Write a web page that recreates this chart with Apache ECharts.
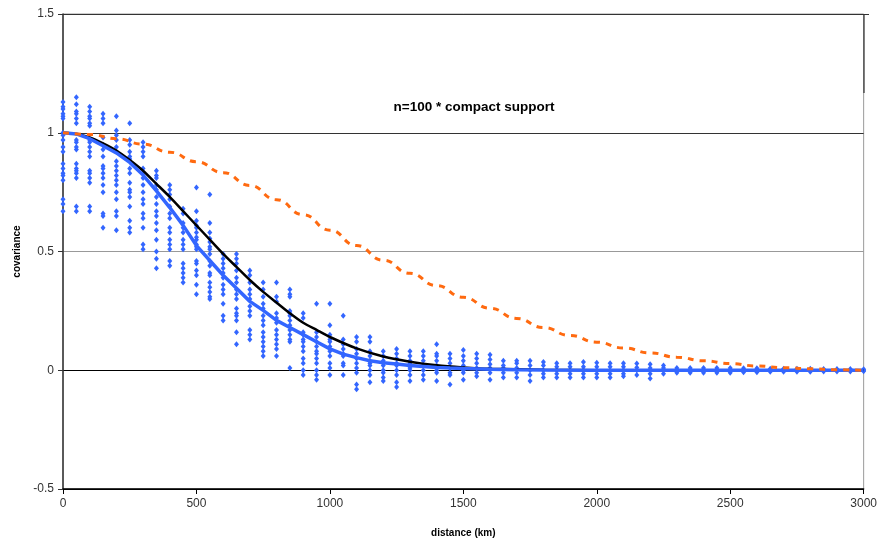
<!DOCTYPE html>
<html>
<head>
<meta charset="utf-8">
<script src="https://cdn.jsdelivr.net/npm/echarts@6/dist/echarts.min.js"></script>
<style>
  html, body { margin: 0; padding: 0; background: #fff; }
  #chart { width: 880px; height: 546px; }
</style>
</head>
<body>
<div id="chart"></div>
<script>
// Separation distances (km) at which the ensemble covariances were sampled
const distanceKm = [
  0, 50, 100, 150, 200, 250, 300, 350, 400, 450, 500, 550, 600, 650, 700, 750,
  800, 850, 900, 950, 1000, 1050, 1100, 1150, 1200, 1250, 1300, 1350, 1400, 1450,
  1500, 1550, 1600, 1650, 1700, 1750, 1800, 1850, 1900, 1950, 2000, 2050, 2100,
  2150, 2200, 2250, 2300, 2350, 2400, 2450, 2500, 2550, 2600, 2650, 2700, 2750,
  2800, 2850, 2900, 2950, 3000
];

// Sample covariances (n=100 ensemble, localized) at each distance above
const sampleCov = [
  [1.13, 1.11, 1.10, 1.08, 1.07, 1.06, 1.00, 0.99, 0.97, 0.94, 0.92, 0.87, 0.85, 0.83, 0.82, 0.80, 0.72, 0.70, 0.67],
  [1.15, 1.12, 1.09, 1.08, 1.06, 1.04, 0.97, 0.96, 0.94, 0.93, 0.87, 0.85, 0.84, 0.83, 0.81, 0.69, 0.67],
  [1.11, 1.09, 1.07, 1.06, 1.04, 1.03, 0.97, 0.96, 0.94, 0.92, 0.90, 0.84, 0.83, 0.81, 0.79, 0.69, 0.67],
  [1.08, 1.06, 1.04, 0.98, 0.95, 0.93, 0.90, 0.86, 0.85, 0.83, 0.81, 0.78, 0.75, 0.66, 0.65, 0.60],
  [1.07, 1.01, 0.99, 0.97, 0.94, 0.92, 0.88, 0.86, 0.84, 0.82, 0.80, 0.78, 0.75, 0.72, 0.67, 0.65, 0.59],
  [1.04, 0.97, 0.95, 0.92, 0.90, 0.89, 0.85, 0.83, 0.79, 0.76, 0.75, 0.73, 0.69, 0.63, 0.60, 0.58],
  [0.96, 0.94, 0.92, 0.90, 0.85, 0.83, 0.81, 0.78, 0.75, 0.72, 0.70, 0.66, 0.64, 0.60, 0.53, 0.51],
  [0.84, 0.82, 0.81, 0.78, 0.76, 0.73, 0.70, 0.67, 0.65, 0.62, 0.59, 0.55, 0.50, 0.47, 0.43],
  [0.78, 0.76, 0.74, 0.72, 0.69, 0.66, 0.64, 0.60, 0.58, 0.55, 0.53, 0.51, 0.46, 0.44],
  [0.68, 0.66, 0.62, 0.60, 0.58, 0.55, 0.53, 0.51, 0.45, 0.43, 0.41, 0.39, 0.37],
  [0.77, 0.67, 0.63, 0.61, 0.60, 0.58, 0.56, 0.55, 0.53, 0.52, 0.51, 0.46, 0.45, 0.42, 0.40, 0.36, 0.32],
  [0.74, 0.62, 0.58, 0.555, 0.54, 0.52, 0.51, 0.49, 0.46, 0.44, 0.41, 0.40, 0.37, 0.35, 0.33, 0.31, 0.30],
  [0.49, 0.47, 0.45, 0.43, 0.41, 0.39, 0.36, 0.34, 0.32, 0.28, 0.23, 0.21],
  [0.49, 0.47, 0.45, 0.42, 0.39, 0.37, 0.34, 0.32, 0.30, 0.26, 0.24, 0.23, 0.21, 0.16, 0.11],
  [0.42, 0.40, 0.37, 0.34, 0.32, 0.30, 0.27, 0.25, 0.23, 0.17, 0.15, 0.13],
  [0.37, 0.34, 0.31, 0.28, 0.26, 0.23, 0.21, 0.19, 0.16, 0.14, 0.12, 0.10, 0.08, 0.06],
  [0.37, 0.31, 0.29, 0.24, 0.22, 0.20, 0.17, 0.15, 0.13, 0.11, 0.09, 0.06],
  [0.34, 0.32, 0.31, 0.25, 0.24, 0.23, 0.21, 0.19, 0.17, 0.15, 0.13, 0.12, 0.01],
  [0.24, 0.22, 0.16, 0.15, 0.13, 0.12, 0.10, 0.08, 0.05, 0.03, 0.00, -0.02],
  [0.28, 0.16, 0.14, 0.12, 0.10, 0.08, 0.07, 0.05, 0.03, 0.00, -0.02, -0.04],
  [0.28, 0.19, 0.15, 0.13, 0.12, 0.10, 0.08, 0.06, 0.03, 0.01, -0.02],
  [0.23, 0.13, 0.11, 0.09, 0.07, 0.06, 0.03, 0.02, -0.02],
  [0.14, 0.12, 0.09, 0.07, 0.05, 0.03, 0.01, -0.01, -0.06, -0.08],
  [0.14, 0.12, 0.08, 0.06, 0.04, 0.03, 0.02, 0.00, -0.02, -0.05],
  [0.08, 0.06, 0.04, 0.03, 0.02, 0.00, -0.01, -0.03, -0.045],
  [0.09, 0.07, 0.05, 0.03, 0.02, 0.00, -0.02, -0.05, -0.07],
  [0.08, 0.06, 0.04, 0.03, 0.01, 0.00, -0.02, -0.045],
  [0.08, 0.06, 0.04, 0.02, 0.00, -0.02, -0.04],
  [0.11, 0.07, 0.06, 0.04, 0.02, 0.00, -0.01, -0.045],
  [0.07, 0.05, 0.03, 0.01, -0.01, -0.02, -0.06],
  [0.085, 0.06, 0.04, 0.02, 0.00, -0.01, -0.04],
  [0.07, 0.05, 0.03, 0.01, -0.01, -0.025],
  [0.065, 0.045, 0.025, 0.01, -0.01, -0.04],
  [0.04, 0.02, 0.01, -0.01, -0.03],
  [0.04, 0.03, 0.01, -0.01, -0.03],
  [0.04, 0.02, 0.00, -0.02, -0.045],
  [0.035, 0.02, 0.00, -0.015, -0.03],
  [0.03, 0.015, 0.00, -0.015, -0.03],
  [0.03, 0.015, 0.00, -0.015, -0.03],
  [0.035, 0.015, 0.00, -0.015, -0.03],
  [0.032, 0.015, 0.00, -0.015, -0.03],
  [0.03, 0.015, 0.00, -0.015, -0.03],
  [0.03, 0.015, 0.00, -0.015, -0.025],
  [0.028, 0.012, 0.00, -0.02],
  [0.025, 0.01, 0.00, -0.015, -0.035],
  [0.02, 0.01, 0.00, -0.015],
  [0.01, 0.00, -0.01],
  [0.01, 0.00, -0.01],
  [0.01, 0.00, -0.01],
  [0.01, 0.00, -0.01],
  [0.01, 0.00, -0.01],
  [0.008, 0.00, -0.008],
  [0.008, 0.00, -0.008],
  [0.006, 0.00, -0.006],
  [0.006, 0.00, -0.006],
  [0.006, 0.00, -0.006],
  [0.006, 0.00, -0.006],
  [0.005, 0.00, -0.005],
  [0.005, 0.00, -0.005],
  [0.005, 0.00, -0.005],
  [0.004, 0.00, -0.004]
];

// Mean of the localized sample covariances
const meanDistKm = [0, 50, 100, 150, 200, 250, 300, 350, 400, 450, 500, 550, 600, 650, 700, 750, 800, 850, 900, 950, 1000, 1050, 1100, 1150, 1200, 1250, 1300, 1350, 1400, 1450, 1500, 1600, 1700, 1800, 2000, 2500, 3000];
const meanCov = [1.0, 0.995, 0.975, 0.945, 0.915, 0.875, 0.822, 0.755, 0.685, 0.61, 0.525, 0.462, 0.40, 0.345, 0.29, 0.252, 0.21, 0.18, 0.15, 0.12, 0.09, 0.068, 0.053, 0.04, 0.032, 0.026, 0.02, 0.016, 0.012, 0.009, 0.007, 0.004, 0.002, 0.001, 0.0, 0.0, 0.0];

// True covariance
const trueDistKm = [0, 50, 100, 150, 200, 250, 300, 350, 400, 450, 500, 550, 600, 650, 700, 750, 800, 850, 900, 950, 1000, 1100, 1200, 1300, 1400, 1500, 1600, 1800, 2000, 2500, 3000];
const trueCov = [1.0, 0.995, 0.98, 0.955, 0.925, 0.885, 0.84, 0.785, 0.73, 0.67, 0.61, 0.55, 0.49, 0.435, 0.38, 0.33, 0.285, 0.24, 0.20, 0.17, 0.14, 0.092, 0.058, 0.036, 0.021, 0.012, 0.006, 0.002, 0.0, 0.0, 0.0];

// Compact support (localization) function
const taperDistKm = [0, 100, 200, 300, 400, 500, 600, 700, 800, 900, 1000, 1100, 1200, 1300, 1400, 1500, 1600, 1700, 1800, 1900, 2000, 2100, 2200, 2300, 2400, 2500, 2600, 2700, 2800, 2900, 3000];
const taperCov = [1.0, 0.993, 0.975, 0.952, 0.918, 0.878, 0.832, 0.778, 0.718, 0.655, 0.59, 0.525, 0.463, 0.408, 0.356, 0.307, 0.261, 0.218, 0.18, 0.146, 0.118, 0.094, 0.073, 0.055, 0.04, 0.028, 0.018, 0.011, 0.006, 0.002, 0.0];

const xTicks = { min: 0, max: 3000, step: 500 };
const yTicks = { min: -0.5, max: 1.5, step: 0.5 };
const chartTitle = 'n=100 * compact support';

const pairs = (xs, ys) => xs.map((x, i) => [x, ys[i]]);
const scatterPoints = [];
distanceKm.forEach((d, i) => sampleCov[i].forEach(v => scatterPoints.push([d, v])));

const font = '"Liberation Sans", Arial, sans-serif';
const blue = '#3366ff';

const chart = echarts.init(document.getElementById('chart'), null, { renderer: 'canvas' });
chart.setOption({
  backgroundColor: '#ffffff',
  animation: false,
  title: {
    text: chartTitle,
    left: 469,
    top: 95,
    textAlign: 'center',
    textStyle: { fontFamily: font, fontSize: 13.5, fontWeight: 'bold', color: '#000' }
  },
  grid: {
    left: 63, right: 16, top: 14, bottom: 57,
    show: true, borderColor: '#9a9a9a', borderWidth: 1, backgroundColor: 'transparent'
  },
  xAxis: {
    type: 'value',
    min: xTicks.min, max: xTicks.max, interval: xTicks.step,
    name: 'distance (km)', nameLocation: 'middle', nameGap: 39,
    nameTextStyle: { fontFamily: font, fontSize: 10, fontWeight: 'bold', color: '#000' },
    axisLine: { show: true, onZero: false, lineStyle: { color: '#000', width: 1.5 } },
    axisTick: { show: true, inside: false, length: 5, lineStyle: { color: '#000' } },
    axisLabel: { fontFamily: font, fontSize: 12, color: '#333', margin: 9, formatter: v => String(v) },
    splitLine: { show: false }
  },
  yAxis: {
    type: 'value',
    min: yTicks.min, max: yTicks.max, interval: yTicks.step,
    name: 'covariance', nameLocation: 'middle', nameGap: 40, nameRotate: 90,
    nameTextStyle: { fontFamily: font, fontSize: 10, fontWeight: 'bold', color: '#000' },
    axisLine: { show: true, onZero: false, lineStyle: { color: '#333', width: 1.5 } },
    axisTick: { show: true, inside: false, length: 5, lineStyle: { color: '#333' } },
    axisLabel: { fontFamily: font, fontSize: 12, color: '#333', margin: 9, formatter: v => String(v) },
    splitLine: {
      show: true,
      lineStyle: { color: ['#000', '#000', '#999', '#333', '#333'], width: 1.2 }
    }
  },
  graphic: [
    {
      type: 'line', z: 50,
      shape: { x1: 864, y1: 14, x2: 864, y2: 93 },
      style: { stroke: '#333', lineWidth: 1.2 }
    },
    {
      type: 'line', z: 50,
      shape: { x1: 63, y1: 14.5, x2: 869, y2: 14.5 },
      style: { stroke: '#333', lineWidth: 1.2 }
    }
  ],
  series: [
    {
      name: 'sample covariance',
      type: 'scatter',
      data: scatterPoints,
      symbol: 'diamond',
      symbolSize: [5, 6],
      itemStyle: { color: blue, opacity: 1 },
      z: 2
    },
    {
      name: 'true covariance',
      type: 'line',
      data: pairs(trueDistKm, trueCov),
      showSymbol: false,
      smooth: 0.2,
      lineStyle: { color: '#000', width: 2.5 },
      z: 3
    },
    {
      name: 'mean covariance',
      type: 'line',
      data: pairs(meanDistKm, meanCov),
      showSymbol: false,
      lineStyle: { color: blue, width: 3.5 },
      z: 4
    },
    {
      name: 'compact support',
      type: 'line',
      data: pairs(taperDistKm, taperCov),
      showSymbol: false,
      smooth: 0.5,
      smoothMonotone: 'x',
      lineStyle: { color: '#ff6a10', width: 3, type: [6, 6], cap: 'butt' },
      z: 5
    }
  ]
});
</script>
</body>
</html>
